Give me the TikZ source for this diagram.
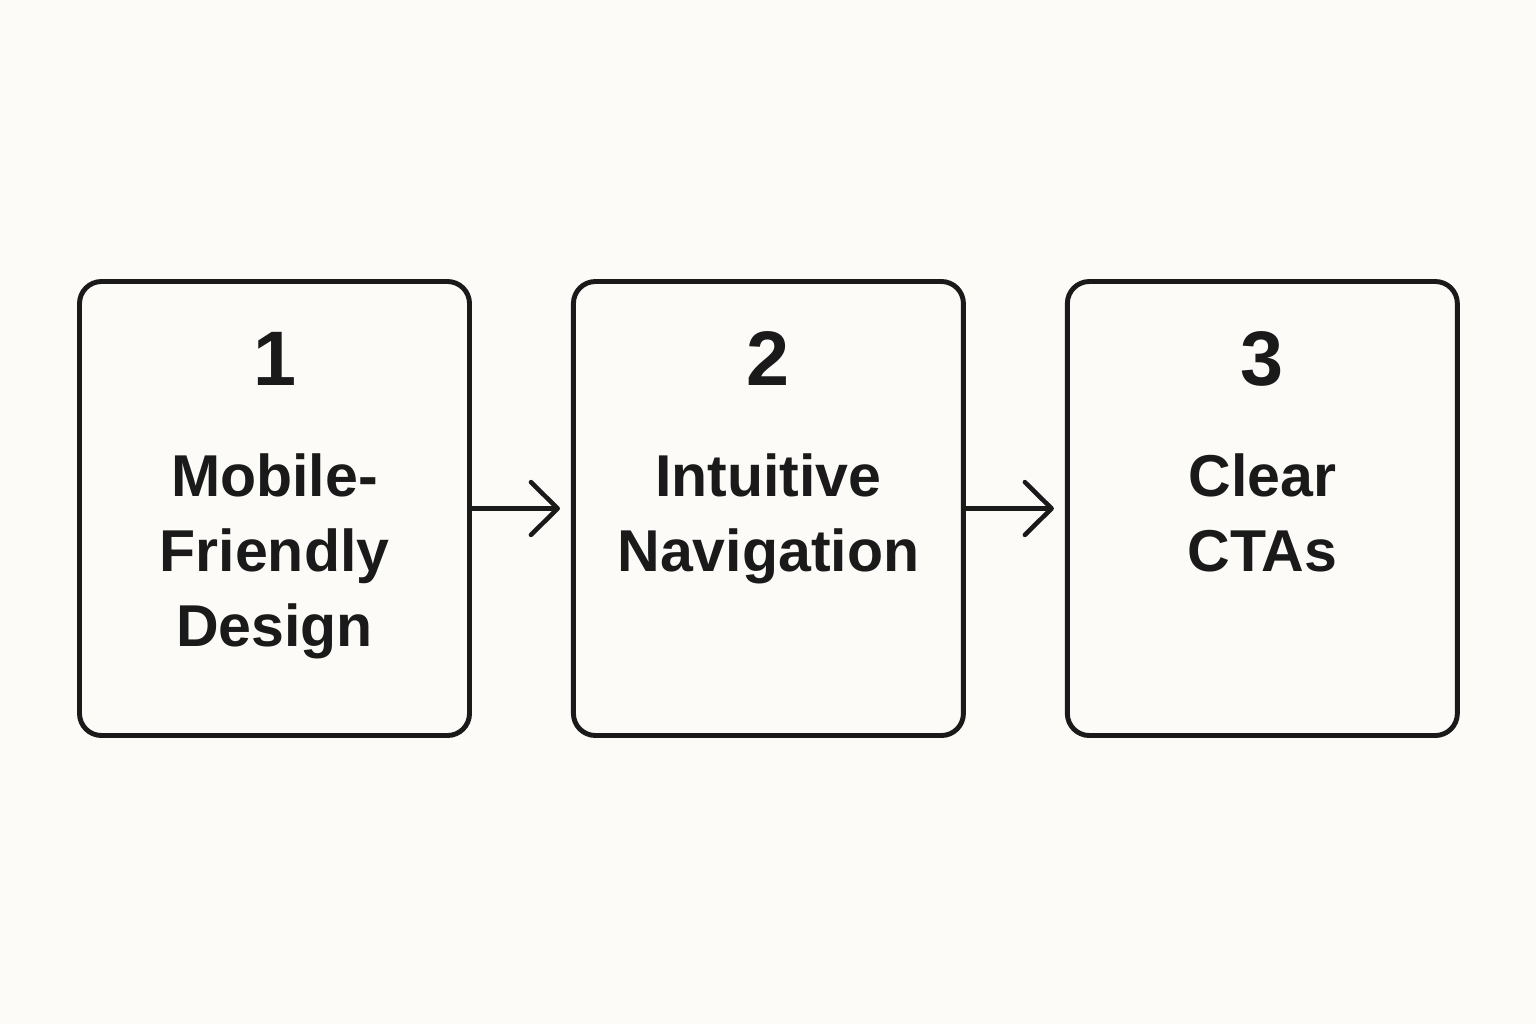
\documentclass[tikz,border=0pt]{standalone}
\usepackage{fontspec}
\setmainfont{Liberation Sans}
\usetikzlibrary{positioning,arrows.meta}
\definecolor{bgpaper}{HTML}{FCFBF8}
\definecolor{inkline}{HTML}{1A1A1A}

\tikzset{
  stepbox/.style={rectangle, draw=inkline, line width=1.4pt, rounded corners=0.22cm,
    minimum width=3.90cm, minimum height=4.54cm, inner sep=0pt},
  numtxt/.style={inner sep=0pt, text=inkline, font=\fontsize{22}{26}\selectfont\bfseries},
  lbltxt/.style={inner sep=0pt, text=inkline, align=center,
    font=\fontsize{16.8}{21.3}\selectfont\bfseries},
  flowarrow/.style={draw=inkline, line width=1.3pt,
    -{Straight Barb[length=7.6pt, width=15pt, line cap=round, line join=round]},
    shorten >=1.1mm}
}

\begin{document}
\begin{tikzpicture}
\fill[bgpaper] (0,0) rectangle (15.36,-10.24);
\useasboundingbox (0,0) rectangle (15.36,-10.24);

% three steps
\node[stepbox] (box1) at (2.745,-5.085) {};
\node[stepbox, right=0.99cm of box1] (box2) {};
\node[stepbox, right=0.99cm of box2] (box3) {};

\node[numtxt, anchor=base] (num1) at ([yshift=-1.06cm]box1.north) {1};
\node[numtxt, anchor=base] (num2) at ([yshift=-1.06cm]box2.north) {2};
\node[numtxt, anchor=base] (num3) at ([yshift=-1.06cm]box3.north) {3};

\node[lbltxt, anchor=north] (lbl1) at ([yshift=-1.74cm]box1.north) {Mobile-\\Friendly\\Design};
\node[lbltxt, anchor=north] (lbl2) at ([yshift=-1.74cm]box2.north) {Intuitive\\Navigation};
\node[lbltxt, anchor=north] (lbl3) at ([yshift=-1.74cm]box3.north) {Clear\\CTAs};

% connectors
\draw[flowarrow] (box1.east) -- (box2.west);
\draw[flowarrow] (box2.east) -- (box3.west);
\end{tikzpicture}
\end{document}
